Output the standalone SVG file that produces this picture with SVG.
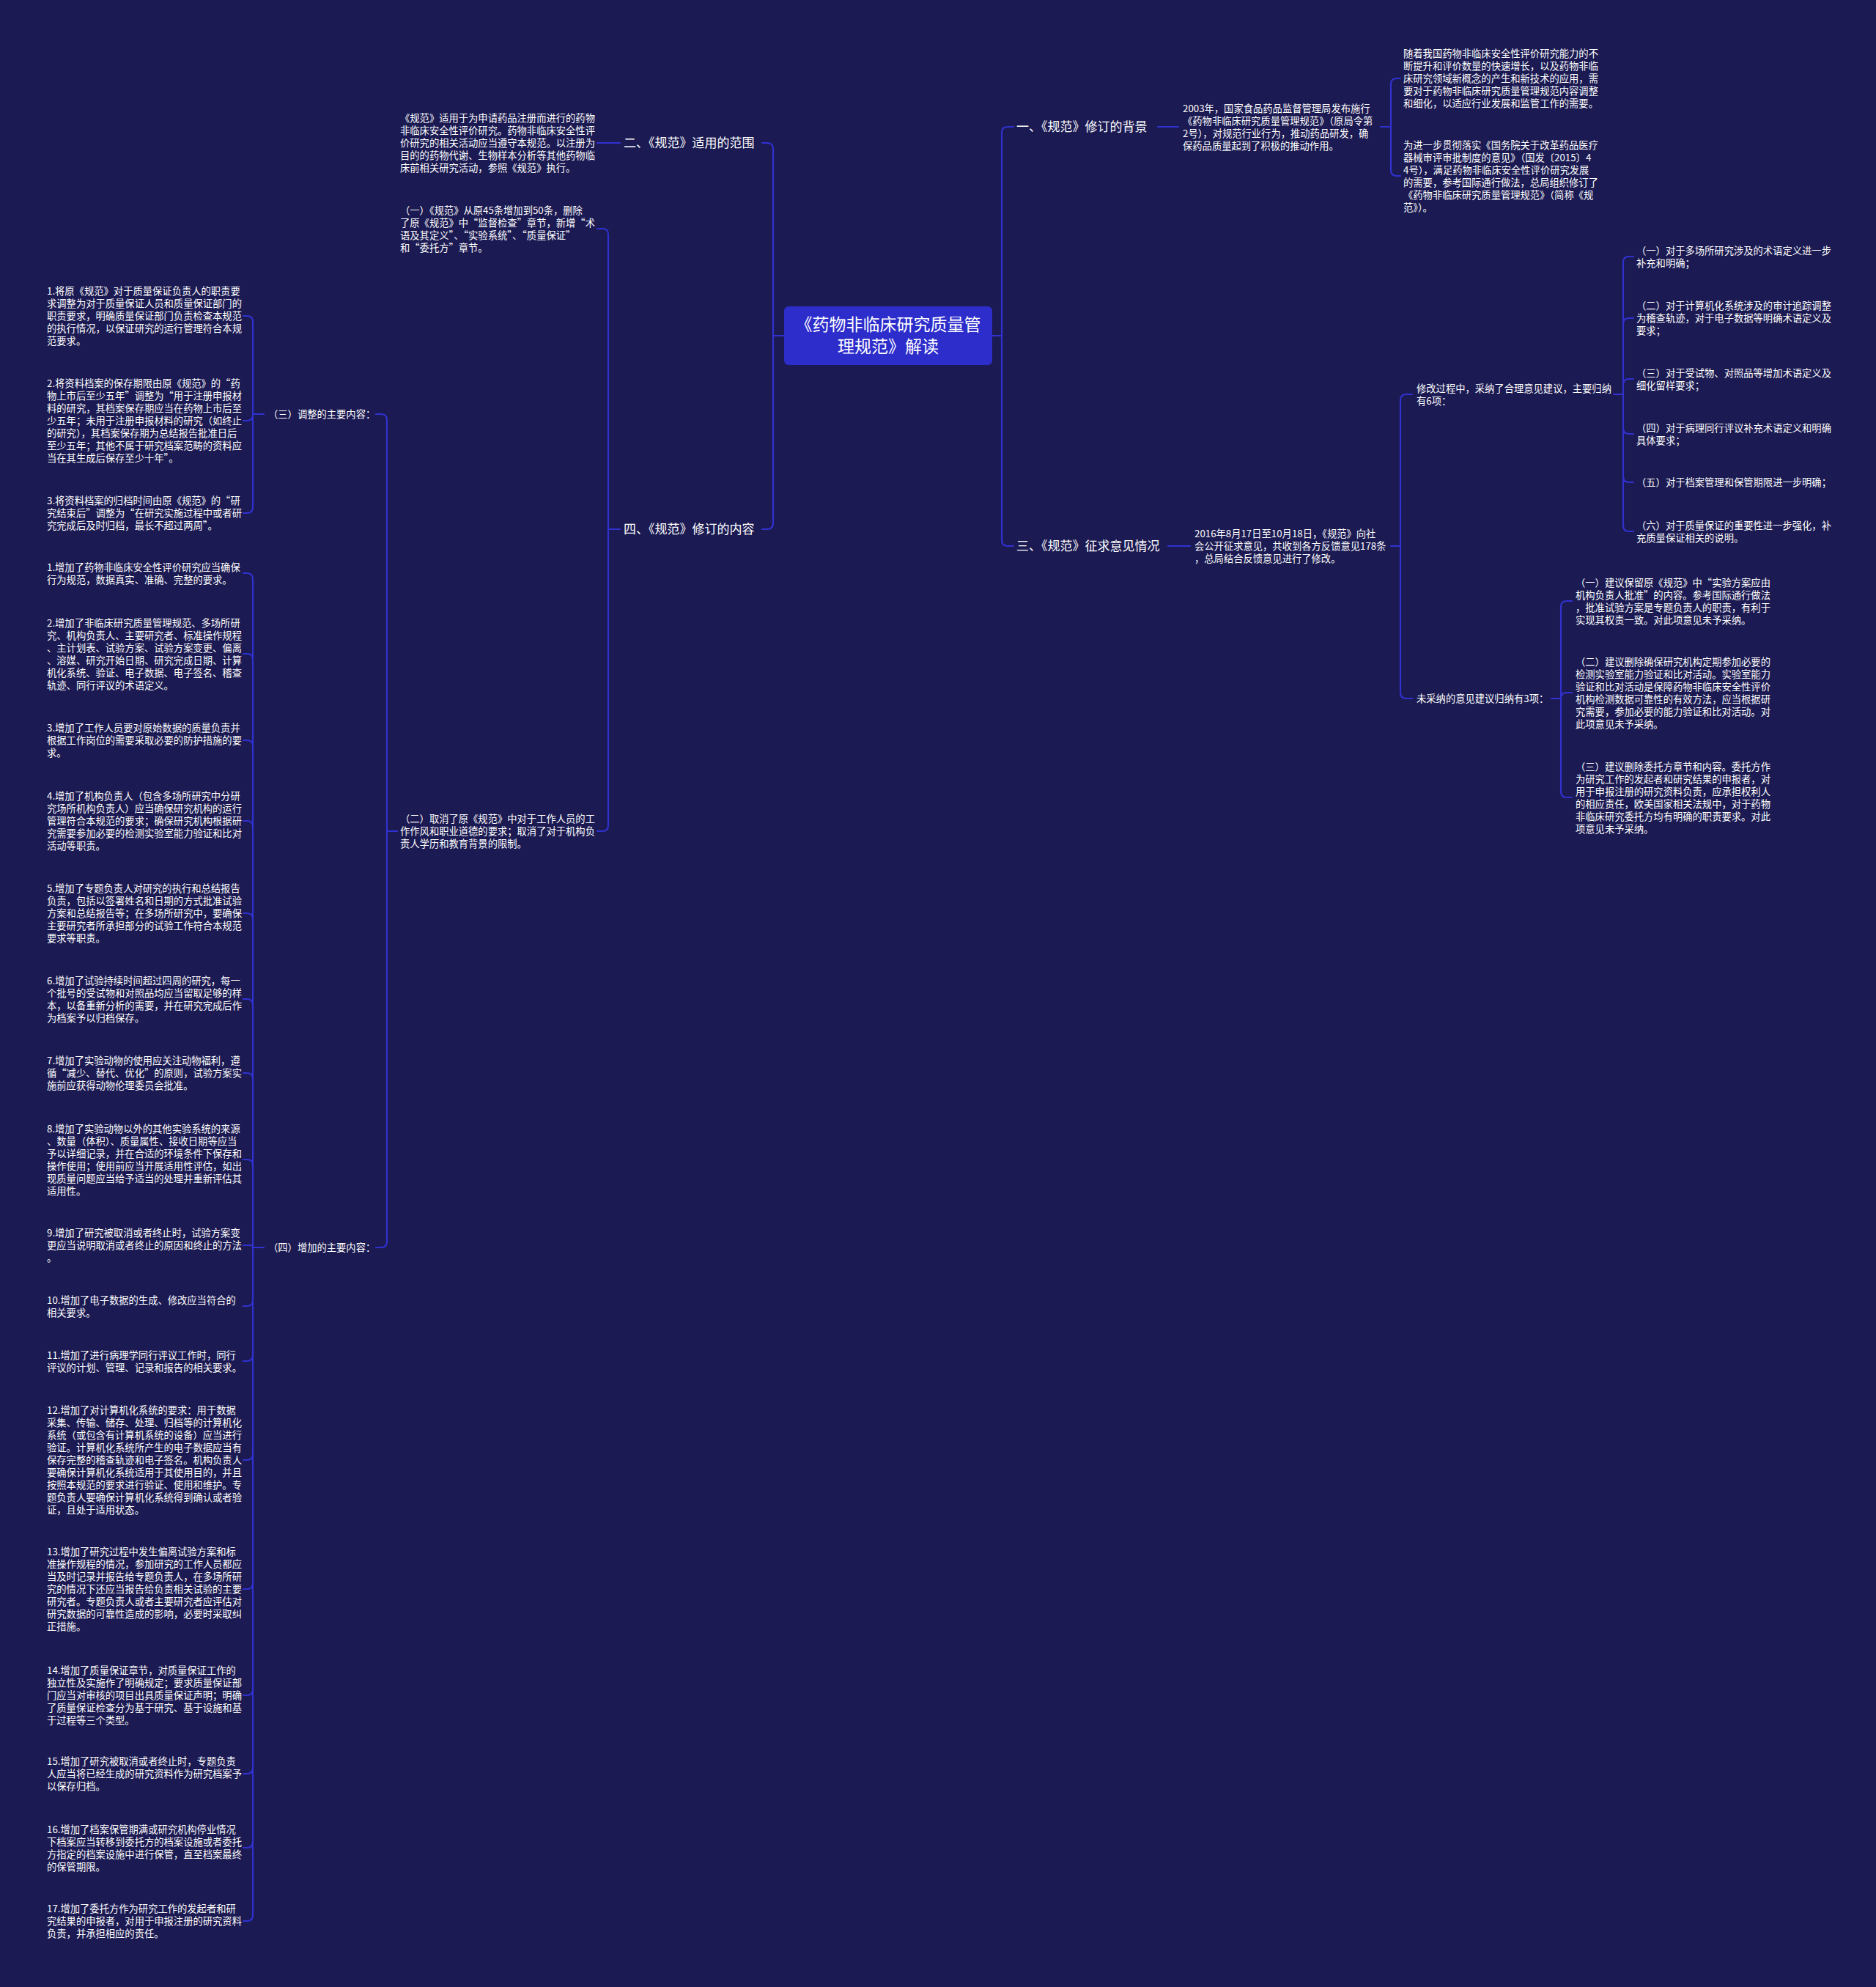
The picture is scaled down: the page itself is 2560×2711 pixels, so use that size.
<svg xmlns="http://www.w3.org/2000/svg" width="2560" height="2711" viewBox="0 0 2560 2711">
<style>
.ln{fill:none;stroke:#3131d0;stroke-width:2.2;stroke-linecap:round}
text{font-family:"Noto Sans CJK SC","Noto Sans",sans-serif;fill:#ffffff}
.t{font-size:13.3px}
.h{font-size:17px}
.r{font-size:23px;text-anchor:middle}
</style>
<rect x="0" y="0" width="2560" height="2711" fill="#1b1a52"/>
<g id="connectors">
<path class="ln" d="M1354,458 H1367 M1367,458 V181 Q1367,173 1375,173 H1383 M1367,458 V737 Q1367,745 1375,745 H1383"/>
<path class="ln" d="M1070,458 H1055 M1055,458 V203 Q1055,195 1047,195 H1040 M1055,458 V714 Q1055,722 1047,722 H1040"/>
<path class="ln" d="M1580,173 H1608"/>
<path class="ln" d="M1884,173 H1898 M1898,173 V115 Q1898,107 1906,107 H1911 M1898,173 V232 Q1898,240 1906,240 H1911"/>
<path class="ln" d="M1594,745 H1624"/>
<path class="ln" d="M1898,745 H1911 M1911,745 V546 Q1911,538 1919,538 H1927 M1911,745 V945 Q1911,953 1919,953 H1927"/>
<path class="ln" d="M2202,538 H2215 M2215,538 V358 Q2215,350 2223,350 H2229 M2215,538 V442 Q2215,434 2223,434 H2229 M2215,538 V525 Q2215,517 2223,517 H2229 M2215,538 V584 Q2215,592 2223,592 H2229 M2215,538 V650 Q2215,658 2223,658 H2229 M2215,538 V717 Q2215,725 2223,725 H2229"/>
<path class="ln" d="M2117,953 H2130 M2130,953 V828 Q2130,820 2138,820 H2145 M2130,953 Q2130,945 2138,945 H2145 M2130,953 V1080 Q2130,1088 2138,1088 H2145"/>
<path class="ln" d="M846,195 H815"/>
<path class="ln" d="M846,722 H830 M830,722 V320 Q830,312 822,312 H815 M830,722 V1126 Q830,1134 822,1134 H815"/>
<path class="ln" d="M542,1134 H528 M528,1134 V573 Q528,565 520,565 H513 M528,1134 V1694 Q528,1702 520,1702 H513"/>
<path class="ln" d="M360,565 H345 M345,565 V439 Q345,431 337,431 H332 M345,565 V566 Q345,574 337,574 H332 M345,565 V692 Q345,700 337,700 H332"/>
<path class="ln" d="M360,1702 H345 M345,1702 V790 Q345,782 337,782 H332 M345,1702 V900 Q345,892 337,892 H332 M345,1702 V1018 Q345,1010 337,1010 H332 M345,1702 V1128 Q345,1120 337,1120 H332 M345,1702 V1254 Q345,1246 337,1246 H332 M345,1702 V1371 Q345,1363 337,1363 H332 M345,1702 V1472 Q345,1464 337,1464 H332 M345,1702 V1590 Q345,1582 337,1582 H332 M345,1702 Q345,1699 342,1699 H332 M345,1702 V1774 Q345,1782 337,1782 H332 M345,1702 V1849 Q345,1857 337,1857 H332 M345,1702 V1984 Q345,1992 337,1992 H332 M345,1702 V2160 Q345,2168 337,2168 H332 M345,1702 V2305 Q345,2313 337,2313 H332 M345,1702 V2412 Q345,2420 337,2420 H332 M345,1702 V2513 Q345,2521 337,2521 H332 M345,1702 V2613 Q345,2621 337,2621 H332"/>
</g>
<g id="root">
<rect x="1070" y="418" width="284" height="80" rx="6" fill="#2d2dcc"/>
<text class="r"><tspan x="1212" y="451">《药物非临床研究质量管</tspan><tspan x="1212" y="481">理规范》解读</tspan></text>
</g>
<g id="n1"><text class="h" x="1387" y="179">一、《规范》修订的背景</text></g>
<g id="n1a"><text class="t"><tspan x="1614" y="152.5">2003年，国家食品药品监督管理局发布施行</tspan><tspan x="1614" y="169.5">《药物非临床研究质量管理规范》（原局令第</tspan><tspan x="1614" y="186.5">2号），对规范行业行为，推动药品研发，确</tspan><tspan x="1614" y="203.5">保药品质量起到了积极的推动作用。</tspan></text></g>
<g id="n1a1"><text class="t"><tspan x="1915" y="78">随着我国药物非临床安全性评价研究能力的不</tspan><tspan x="1915" y="95">断提升和评价数量的快速增长，以及药物非临</tspan><tspan x="1915" y="112">床研究领域新概念的产生和新技术的应用，需</tspan><tspan x="1915" y="129">要对于药物非临床研究质量管理规范内容调整</tspan><tspan x="1915" y="146">和细化，以适应行业发展和监管工作的需要。</tspan></text></g>
<g id="n1a2"><text class="t"><tspan x="1915" y="202.5">为进一步贯彻落实《国务院关于改革药品医疗</tspan><tspan x="1915" y="219.5">器械审评审批制度的意见》（国发〔2015〕4</tspan><tspan x="1915" y="236.5">4号），满足药物非临床安全性评价研究发展</tspan><tspan x="1915" y="253.5">的需要，参考国际通行做法，总局组织修订了</tspan><tspan x="1915" y="270.5">《药物非临床研究质量管理规范》（简称《规</tspan><tspan x="1915" y="287.5">范》）。</tspan></text></g>
<g id="n3"><text class="h" x="1387" y="751">三、《规范》征求意见情况</text></g>
<g id="n3a"><text class="t"><tspan x="1630" y="733">2016年8月17日至10月18日，《规范》向社</tspan><tspan x="1630" y="750">会公开征求意见，共收到各方反馈意见178条</tspan><tspan x="1630" y="767">，总局结合反馈意见进行了修改。</tspan></text></g>
<g id="n3a1"><text class="t"><tspan x="1933" y="534.5">修改过程中，采纳了合理意见建议，主要归纳</tspan><tspan x="1933" y="551.5">有6项：</tspan></text></g>
<g id="n3a1c1"><text class="t"><tspan x="2233" y="346.5">（一）对于多场所研究涉及的术语定义进一步</tspan><tspan x="2233" y="363.5">补充和明确；</tspan></text></g>
<g id="n3a1c2"><text class="t"><tspan x="2233" y="422">（二）对于计算机化系统涉及的审计追踪调整</tspan><tspan x="2233" y="439">为稽查轨迹，对于电子数据等明确术语定义及</tspan><tspan x="2233" y="456">要求；</tspan></text></g>
<g id="n3a1c3"><text class="t"><tspan x="2233" y="513.5">（三）对于受试物、对照品等增加术语定义及</tspan><tspan x="2233" y="530.5">细化留样要求；</tspan></text></g>
<g id="n3a1c4"><text class="t"><tspan x="2233" y="588.5">（四）对于病理同行评议补充术语定义和明确</tspan><tspan x="2233" y="605.5">具体要求；</tspan></text></g>
<g id="n3a1c5"><text class="t" x="2233" y="663">（五）对于档案管理和保管期限进一步明确；</text></g>
<g id="n3a1c6"><text class="t"><tspan x="2233" y="721.5">（六）对于质量保证的重要性进一步强化，补</tspan><tspan x="2233" y="738.5">充质量保证相关的说明。</tspan></text></g>
<g id="n3a2"><text class="t" x="1933" y="958">未采纳的意见建议归纳有3项：</text></g>
<g id="n3a2c1"><text class="t"><tspan x="2150" y="799.5">（一）建议保留原《规范》中“实验方案应由</tspan><tspan x="2150" y="816.5">机构负责人批准”的内容。参考国际通行做法</tspan><tspan x="2150" y="833.5">，批准试验方案是专题负责人的职责，有利于</tspan><tspan x="2150" y="850.5">实现其权责一致。对此项意见未予采纳。</tspan></text></g>
<g id="n3a2c2"><text class="t"><tspan x="2150" y="907.5">（二）建议删除确保研究机构定期参加必要的</tspan><tspan x="2150" y="924.5">检测实验室能力验证和比对活动。实验室能力</tspan><tspan x="2150" y="941.5">验证和比对活动是保障药物非临床安全性评价</tspan><tspan x="2150" y="958.5">机构检测数据可靠性的有效方法，应当根据研</tspan><tspan x="2150" y="975.5">究需要，参加必要的能力验证和比对活动。对</tspan><tspan x="2150" y="992.5">此项意见未予采纳。</tspan></text></g>
<g id="n3a2c3"><text class="t"><tspan x="2150" y="1050.5">（三）建议删除委托方章节和内容。委托方作</tspan><tspan x="2150" y="1067.5">为研究工作的发起者和研究结果的申报者，对</tspan><tspan x="2150" y="1084.5">用于申报注册的研究资料负责，应承担权利人</tspan><tspan x="2150" y="1101.5">的相应责任，欧美国家相关法规中，对于药物</tspan><tspan x="2150" y="1118.5">非临床研究委托方均有明确的职责要求。对此</tspan><tspan x="2150" y="1135.5">项意见未予采纳。</tspan></text></g>
<g id="n2"><text class="h" x="851" y="201">二、《规范》适用的范围</text></g>
<g id="n2a"><text class="t"><tspan x="546" y="166">《规范》适用于为申请药品注册而进行的药物</tspan><tspan x="546" y="183">非临床安全性评价研究。药物非临床安全性评</tspan><tspan x="546" y="200">价研究的相关活动应当遵守本规范。以注册为</tspan><tspan x="546" y="217">目的的药物代谢、生物样本分析等其他药物临</tspan><tspan x="546" y="234">床前相关研究活动，参照《规范》执行。</tspan></text></g>
<g id="n4"><text class="h" x="851" y="728">四、《规范》修订的内容</text></g>
<g id="n4a"><text class="t"><tspan x="546" y="291.5">（一）《规范》从原45条增加到50条，删除</tspan><tspan x="546" y="308.5">了原《规范》中“监督检查”章节，新增“术</tspan><tspan x="546" y="325.5">语及其定义”、“实验系统”、“质量保证”</tspan><tspan x="546" y="342.5">和“委托方”章节。</tspan></text></g>
<g id="n4b"><text class="t"><tspan x="546" y="1122">（二）取消了原《规范》中对于工作人员的工</tspan><tspan x="546" y="1139">作作风和职业道德的要求；取消了对于机构负</tspan><tspan x="546" y="1156">责人学历和教育背景的限制。</tspan></text></g>
<g id="n4b1"><text class="t" x="366" y="570">（三）调整的主要内容：</text></g>
<g id="a1"><text class="t"><tspan x="64" y="402">1.将原《规范》对于质量保证负责人的职责要</tspan><tspan x="64" y="419">求调整为对于质量保证人员和质量保证部门的</tspan><tspan x="64" y="436">职责要求，明确质量保证部门负责检查本规范</tspan><tspan x="64" y="453">的执行情况，以保证研究的运行管理符合本规</tspan><tspan x="64" y="470">范要求。</tspan></text></g>
<g id="a2"><text class="t"><tspan x="64" y="528">2.将资料档案的保存期限由原《规范》的“药</tspan><tspan x="64" y="545">物上市后至少五年”调整为“用于注册申报材</tspan><tspan x="64" y="562">料的研究，其档案保存期应当在药物上市后至</tspan><tspan x="64" y="579">少五年；未用于注册申报材料的研究（如终止</tspan><tspan x="64" y="596">的研究），其档案保存期为总结报告批准日后</tspan><tspan x="64" y="613">至少五年；其他不属于研究档案范畴的资料应</tspan><tspan x="64" y="630">当在其生成后保存至少十年”。</tspan></text></g>
<g id="a3"><text class="t"><tspan x="64" y="688">3.将资料档案的归档时间由原《规范》的“研</tspan><tspan x="64" y="705">究结束后”调整为“在研究实施过程中或者研</tspan><tspan x="64" y="722">究完成后及时归档，最长不超过两周”。</tspan></text></g>
<g id="n4b2"><text class="t" x="366" y="1707">（四）增加的主要内容：</text></g>
<g id="i1"><text class="t"><tspan x="64" y="778.5">1.增加了药物非临床安全性评价研究应当确保</tspan><tspan x="64" y="795.5">行为规范，数据真实、准确、完整的要求。</tspan></text></g>
<g id="i2"><text class="t"><tspan x="64" y="854.5">2.增加了非临床研究质量管理规范、多场所研</tspan><tspan x="64" y="871.5">究、机构负责人、主要研究者、标准操作规程</tspan><tspan x="64" y="888.5">、主计划表、试验方案、试验方案变更、偏离</tspan><tspan x="64" y="905.5">、溶媒、研究开始日期、研究完成日期、计算</tspan><tspan x="64" y="922.5">机化系统、验证、电子数据、电子签名、稽查</tspan><tspan x="64" y="939.5">轨迹、同行评议的术语定义。</tspan></text></g>
<g id="i3"><text class="t"><tspan x="64" y="998">3.增加了工作人员要对原始数据的质量负责并</tspan><tspan x="64" y="1015">根据工作岗位的需要采取必要的防护措施的要</tspan><tspan x="64" y="1032">求。</tspan></text></g>
<g id="i4"><text class="t"><tspan x="64" y="1091">4.增加了机构负责人（包含多场所研究中分研</tspan><tspan x="64" y="1108">究场所机构负责人）应当确保研究机构的运行</tspan><tspan x="64" y="1125">管理符合本规范的要求；确保研究机构根据研</tspan><tspan x="64" y="1142">究需要参加必要的检测实验室能力验证和比对</tspan><tspan x="64" y="1159">活动等职责。</tspan></text></g>
<g id="i5"><text class="t"><tspan x="64" y="1217">5.增加了专题负责人对研究的执行和总结报告</tspan><tspan x="64" y="1234">负责，包括以签署姓名和日期的方式批准试验</tspan><tspan x="64" y="1251">方案和总结报告等；在多场所研究中，要确保</tspan><tspan x="64" y="1268">主要研究者所承担部分的试验工作符合本规范</tspan><tspan x="64" y="1285">要求等职责。</tspan></text></g>
<g id="i6"><text class="t"><tspan x="64" y="1342.5">6.增加了试验持续时间超过四周的研究，每一</tspan><tspan x="64" y="1359.5">个批号的受试物和对照品均应当留取足够的样</tspan><tspan x="64" y="1376.5">本，以备重新分析的需要，并在研究完成后作</tspan><tspan x="64" y="1393.5">为档案予以归档保存。</tspan></text></g>
<g id="i7"><text class="t"><tspan x="64" y="1452">7.增加了实验动物的使用应关注动物福利，遵</tspan><tspan x="64" y="1469">循“减少、替代、优化”的原则，试验方案实</tspan><tspan x="64" y="1486">施前应获得动物伦理委员会批准。</tspan></text></g>
<g id="i8"><text class="t"><tspan x="64" y="1544.5">8.增加了实验动物以外的其他实验系统的来源</tspan><tspan x="64" y="1561.5">、数量（体积）、质量属性、接收日期等应当</tspan><tspan x="64" y="1578.5">予以详细记录，并在合适的环境条件下保存和</tspan><tspan x="64" y="1595.5">操作使用；使用前应当开展适用性评估，如出</tspan><tspan x="64" y="1612.5">现质量问题应当给予适当的处理并重新评估其</tspan><tspan x="64" y="1629.5">适用性。</tspan></text></g>
<g id="i9"><text class="t"><tspan x="64" y="1687">9.增加了研究被取消或者终止时，试验方案变</tspan><tspan x="64" y="1704">更应当说明取消或者终止的原因和终止的方法</tspan><tspan x="64" y="1721">。</tspan></text></g>
<g id="i10"><text class="t"><tspan x="64" y="1778.5">10.增加了电子数据的生成、修改应当符合的</tspan><tspan x="64" y="1795.5">相关要求。</tspan></text></g>
<g id="i11"><text class="t"><tspan x="64" y="1853.5">11.增加了进行病理学同行评议工作时，同行</tspan><tspan x="64" y="1870.5">评议的计划、管理、记录和报告的相关要求。</tspan></text></g>
<g id="i12"><text class="t"><tspan x="64" y="1929">12.增加了对计算机化系统的要求：用于数据</tspan><tspan x="64" y="1946">采集、传输、储存、处理、归档等的计算机化</tspan><tspan x="64" y="1963">系统（或包含有计算机系统的设备）应当进行</tspan><tspan x="64" y="1980">验证。计算机化系统所产生的电子数据应当有</tspan><tspan x="64" y="1997">保存完整的稽查轨迹和电子签名。机构负责人</tspan><tspan x="64" y="2014">要确保计算机化系统适用于其使用目的，并且</tspan><tspan x="64" y="2031">按照本规范的要求进行验证、使用和维护。专</tspan><tspan x="64" y="2048">题负责人要确保计算机化系统得到确认或者验</tspan><tspan x="64" y="2065">证，且处于适用状态。</tspan></text></g>
<g id="i13"><text class="t"><tspan x="64" y="2122">13.增加了研究过程中发生偏离试验方案和标</tspan><tspan x="64" y="2139">准操作规程的情况，参加研究的工作人员都应</tspan><tspan x="64" y="2156">当及时记录并报告给专题负责人，在多场所研</tspan><tspan x="64" y="2173">究的情况下还应当报告给负责相关试验的主要</tspan><tspan x="64" y="2190">研究者。专题负责人或者主要研究者应评估对</tspan><tspan x="64" y="2207">研究数据的可靠性造成的影响，必要时采取纠</tspan><tspan x="64" y="2224">正措施。</tspan></text></g>
<g id="i14"><text class="t"><tspan x="64" y="2284">14.增加了质量保证章节，对质量保证工作的</tspan><tspan x="64" y="2301">独立性及实施作了明确规定；要求质量保证部</tspan><tspan x="64" y="2318">门应当对审核的项目出具质量保证声明；明确</tspan><tspan x="64" y="2335">了质量保证检查分为基于研究、基于设施和基</tspan><tspan x="64" y="2352">于过程等三个类型。</tspan></text></g>
<g id="i15"><text class="t"><tspan x="64" y="2408">15.增加了研究被取消或者终止时，专题负责</tspan><tspan x="64" y="2425">人应当将已经生成的研究资料作为研究档案予</tspan><tspan x="64" y="2442">以保存归档。</tspan></text></g>
<g id="i16"><text class="t"><tspan x="64" y="2500.5">16.增加了档案保管期满或研究机构停业情况</tspan><tspan x="64" y="2517.5">下档案应当转移到委托方的档案设施或者委托</tspan><tspan x="64" y="2534.5">方指定的档案设施中进行保管，直至档案最终</tspan><tspan x="64" y="2551.5">的保管期限。</tspan></text></g>
<g id="i17"><text class="t"><tspan x="64" y="2609">17.增加了委托方作为研究工作的发起者和研</tspan><tspan x="64" y="2626">究结果的申报者，对用于申报注册的研究资料</tspan><tspan x="64" y="2643">负责，并承担相应的责任。</tspan></text></g>
</svg>
